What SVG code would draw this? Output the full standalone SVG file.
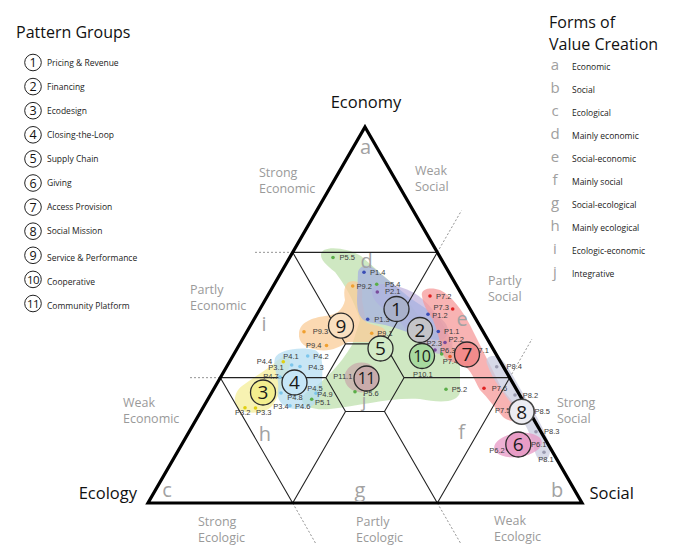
<svg xmlns="http://www.w3.org/2000/svg" width="697" height="555" viewBox="0 0 697 555">
<style>
.h{font-family:"Open Sans","Noto Sans",sans-serif;font-size:16px;fill:#111}
.li{font-family:"Open Sans","Noto Sans",sans-serif;font-size:8.5px;fill:#222}
.ln{font-family:"Open Sans","Noto Sans",sans-serif;font-size:12.5px;fill:#111;text-anchor:middle}
.lc{fill:#fff;stroke:#222;stroke-width:1}
.gl{font-family:"Open Sans","Noto Sans",sans-serif;font-size:12.5px;fill:#9a9a9a}
.rl{font-family:"Open Sans","Noto Sans",sans-serif;font-size:20px;fill:#a2a2a2;text-anchor:middle}
.ll{font-family:"Open Sans","Noto Sans",sans-serif;font-size:15px;fill:#a0a0a0;text-anchor:middle}
.pl{font-family:"Liberation Sans",Arial,sans-serif;font-size:7.5px;fill:#3a3a3a}
.nc{stroke:#2a2a2a;stroke-width:1.3}
.nn{font-family:"Open Sans","Noto Sans",sans-serif;font-size:19px;fill:#1a1a1a;text-anchor:middle}
.nn2{font-family:"Open Sans","Noto Sans",sans-serif;font-size:16px;fill:#1a1a1a;text-anchor:middle;letter-spacing:-0.6px}
.outer{fill:none;stroke:#000;stroke-width:3.2;stroke-linejoin:miter;stroke-miterlimit:10}
.grid{fill:none;stroke:#222;stroke-width:1.1}
.dotl{fill:none;stroke:#777;stroke-width:0.8;stroke-dasharray:2 2}
.blob{opacity:0.75}
</style>

<g id="legend-patterns">
<text class="h" x="16" y="38">Pattern Groups</text>
<g id="lp1"><circle class="lc" cx="33" cy="62.5" r="8.3"/><text class="ln" x="33" y="67">1</text><text class="li" x="47" y="65.5">Pricing &amp; Revenue</text></g>
<g id="lp2"><circle class="lc" cx="33" cy="86.6" r="8.3"/><text class="ln" x="33" y="91.1">2</text><text class="li" x="47" y="89.6">Financing</text></g>
<g id="lp3"><circle class="lc" cx="33" cy="110.7" r="8.3"/><text class="ln" x="33" y="115.2">3</text><text class="li" x="47" y="113.7">Ecodesign</text></g>
<g id="lp4"><circle class="lc" cx="33" cy="134.8" r="8.3"/><text class="ln" x="33" y="139.3">4</text><text class="li" x="47" y="137.8">Closing-the-Loop</text></g>
<g id="lp5"><circle class="lc" cx="33" cy="158.9" r="8.3"/><text class="ln" x="33" y="163.4">5</text><text class="li" x="47" y="161.9">Supply Chain</text></g>
<g id="lp6"><circle class="lc" cx="33" cy="183" r="8.3"/><text class="ln" x="33" y="187.5">6</text><text class="li" x="47" y="186">Giving</text></g>
<g id="lp7"><circle class="lc" cx="33" cy="207.1" r="8.3"/><text class="ln" x="33" y="211.6">7</text><text class="li" x="47" y="210.1">Access Provision</text></g>
<g id="lp8"><circle class="lc" cx="33" cy="231.2" r="8.3"/><text class="ln" x="33" y="235.7">8</text><text class="li" x="47" y="234.2">Social Mission</text></g>
<g id="lp9"><circle class="lc" cx="33" cy="255.3" r="8.3"/><text class="ln" x="33" y="259.8">9</text><text class="li" x="47" y="261">Service &amp; Performance</text></g>
<g id="lp10"><circle class="lc" cx="33" cy="279.4" r="8.3"/><text class="ln" x="33" y="283.7" style="font-size:11.5px;letter-spacing:-0.5px">10</text><text class="li" x="47" y="285">Cooperative</text></g>
<g id="lp11"><circle class="lc" cx="33" cy="303.5" r="8.3"/><text class="ln" x="33" y="307.8" style="font-size:11.5px;letter-spacing:-0.5px">11</text><text class="li" x="47" y="309">Community Platform</text></g>
</g>

<g id="legend-forms">
<text class="h" x="549" y="27.5">Forms of</text>
<text class="h" x="549" y="50">Value Creation</text>
<g id="lf-a"><text class="ll" x="555" y="69.5">a</text><text class="li" x="572" y="69.5">Economic</text></g>
<g id="lf-b"><text class="ll" x="555" y="92.5">b</text><text class="li" x="572" y="92.5">Social</text></g>
<g id="lf-c"><text class="ll" x="555" y="115.6">c</text><text class="li" x="572" y="115.6">Ecological</text></g>
<g id="lf-d"><text class="ll" x="555" y="138.7">d</text><text class="li" x="572" y="138.7">Mainly economic</text></g>
<g id="lf-e"><text class="ll" x="555" y="161.7">e</text><text class="li" x="572" y="161.7">Social-economic</text></g>
<g id="lf-f"><text class="ll" x="555" y="184.8">f</text><text class="li" x="572" y="184.8">Mainly social</text></g>
<g id="lf-g"><text class="ll" x="555" y="207.8">g</text><text class="li" x="572" y="207.8">Social-ecological</text></g>
<g id="lf-h"><text class="ll" x="555" y="230.9">h</text><text class="li" x="572" y="230.9">Mainly ecological</text></g>
<g id="lf-i"><text class="ll" x="555" y="253.9">i</text><text class="li" x="572" y="253.9">Ecologic-economic</text></g>
<g id="lf-j"><text class="ll" x="555" y="277">j</text><text class="li" x="572" y="277">Integrative</text></g>
</g>

<g id="blobs">
<path id="blob5" class="blob" fill="#bfe0ae" d="M321,255 C321,245 346,247 361,256 L400,290 L420,318 C440,330 458,345 460,368 L460,392 C458,403 440,403 420,399 C390,397 360,406 330,409 C305,411 295,401 307,392 C324,382 340,365 352,345 L360,320 C354,300 345,285 335,272 C326,265 321,260 321,255 Z"/>
<path id="blob9" class="blob" fill="#f9cc98" d="M345,300 C343,290 345,281 353,281 C362,281 363,290 362,300 L366,322 C372,326 386,325 386,333 C386,341 375,342 365,342 L348,342 C340,347 330,352 318,350 C305,348 298,343 299,333 C300,322 312,318 325,316 C336,315 343,310 345,300 Z"/>
<path id="blob2" class="blob" fill="#c2b4de" d="M372,292 C372,283 385,282 400,287 C420,293 430,305 440,320 L452,340 C455,352 445,356 435,353 C420,345 410,335 400,322 C385,310 372,302 372,292 Z"/>
<path id="blob1" class="blob" fill="#a7b2e0" d="M358,272 C360,264 370,264 376,270 L410,298 L440,318 C452,326 450,340 438,340 C425,340 405,330 385,325 L368,322 C360,320 357,312 357,300 Z"/>
<path id="blob7" class="blob" fill="#f59a9a" d="M422,296 C420,288 432,287 440,290 C452,296 462,310 470,325 C480,345 490,365 500,385 C508,398 518,405 520,415 C521,422 510,423 503,417 C495,408 488,398 480,390 C474,380 472,370 462,364 C452,362 445,362 442,352 C440,340 437,330 433,320 C428,312 423,305 422,296 Z"/>
<path id="blob8" class="blob" fill="#c9cce0" d="M487,364 C484,356 494,354 500,358 C508,365 515,380 524,395 C533,410 542,425 548,440 C552,450 550,460 543,461 C536,461 535,452 532,440 C525,420 512,405 500,388 C494,380 490,372 487,364 Z"/>
<ellipse id="blob6" class="blob" fill="#e797c4" cx="518" cy="445" rx="24" ry="12" transform="rotate(-8 518 445)"/>
<path id="blob3" class="blob" fill="#f4ee98" d="M284,356 C290,356 292,362 288,370 C284,380 280,395 272,406 C265,414 248,414 240,410 C232,404 234,392 242,386 C255,376 270,368 278,360 Z"/>
<path id="blob4" class="blob" fill="#b6def2" d="M275,358 C278,350 300,346 315,350 C325,355 322,372 322,385 C322,400 315,408 300,409 C285,410 276,402 278,390 C280,378 272,368 275,358 Z"/>
<ellipse id="blob11" class="blob" fill="#c8abab" cx="361.5" cy="377.5" rx="17" ry="15"/>
</g>

<g id="connectors">
<path class="grid" d="M292.67,252.33 H437.33 M292.67,252.33 L345.5,343.9 M437.33,252.33 L384.5,343.9 M220.33,377.67 H326 M509.67,377.67 H404 M292.67,503 L345.5,411.43 M437.33,503 L384.5,411.43 M220.33,377.67 L292.67,503 M437.33,503 L509.67,377.67 M345.5,343.9 L384.5,343.9 L404,377.67 L384.5,411.43 L345.5,411.43 L326,377.67 Z"/>
<path class="dotl" d="M255,252.33 H292.67 M190,377.67 H220.33 M437.33,252.33 L461.5,210.5 M509.67,377.67 L532,339 M292.67,503 L316,544 M437.33,503 L461,544"/>
<path id="triangle" class="outer" d="M365,127 L582,503 L148,503 Z"/>
</g>

<g id="axis-labels">
<text class="h" x="366" y="108" text-anchor="middle" style="font-size:16.5px">Economy</text>
<text class="h" x="137" y="498.5" text-anchor="end" style="font-size:16.5px">Ecology</text>
<text class="h" x="589.5" y="498.5" style="font-size:16.5px">Social</text>
<text class="gl" x="259" y="177">Strong</text><text class="gl" x="259" y="193">Economic</text>
<text class="gl" x="415" y="175">Weak</text><text class="gl" x="415" y="191">Social</text>
<text class="gl" x="190" y="294">Partly</text><text class="gl" x="190" y="310">Economic</text>
<text class="gl" x="488" y="285">Partly</text><text class="gl" x="488" y="301">Social</text>
<text class="gl" x="123" y="407">Weak</text><text class="gl" x="123" y="423">Economic</text>
<text class="gl" x="557" y="407">Strong</text><text class="gl" x="557" y="423">Social</text>
<text class="gl" x="198" y="526">Strong</text><text class="gl" x="198" y="542">Ecologic</text>
<text class="gl" x="356" y="526">Partly</text><text class="gl" x="356" y="542">Ecologic</text>
<text class="gl" x="494" y="525">Weak</text><text class="gl" x="494" y="541">Ecologic</text>
</g>

<g id="regions">
<text class="rl" x="365.5" y="154">a</text>
<text class="rl" x="557" y="497">b</text>
<text class="rl" x="167" y="497">c</text>
<text class="rl" x="366.5" y="268">d</text>
<text class="rl" x="462" y="326">e</text>
<text class="rl" x="461.5" y="439">f</text>
<text class="rl" x="360" y="497">g</text>
<text class="rl" x="265" y="441">h</text>
<text class="rl" x="264" y="331">i</text>
<text class="rl" x="364" y="407" style="font-size:18px">j</text>
</g>

<g id="points">
<g fill="#5aae48"><circle cx="333" cy="257.5" r="1.8"/><circle cx="376.7" cy="284.3" r="1.8"/><circle cx="446" cy="389.3" r="1.8"/><circle cx="311.7" cy="399.3" r="1.8"/><circle cx="355" cy="391.7" r="1.8"/><circle cx="441.7" cy="354" r="1.8"/></g>
<g fill="#3a4db5"><circle cx="364" cy="272.3" r="1.8"/><circle cx="367.7" cy="319.3" r="1.8"/><circle cx="428" cy="314.3" r="1.8"/><circle cx="438.3" cy="331.5" r="1.8"/></g>
<g fill="#7a4c9c"><circle cx="377.3" cy="292" r="1.8"/><circle cx="445" cy="342.5" r="1.8"/><circle cx="435" cy="350" r="1.8"/></g>
<g fill="#f0a030"><circle cx="352.7" cy="286" r="1.8"/><circle cx="371.7" cy="333.3" r="1.8"/><circle cx="304" cy="331.7" r="1.8"/><circle cx="326.5" cy="345.5" r="1.8"/></g>
<g fill="#e02222"><circle cx="430" cy="296" r="1.8"/><circle cx="452.7" cy="309" r="1.8"/><circle cx="470.7" cy="350" r="1.8"/><circle cx="484" cy="388.3" r="1.8"/><circle cx="516" cy="410" r="1.8"/><circle cx="450" cy="356.5" r="1.8" fill="#e85a2a"/></g>
<g fill="#9a9ab0"><circle cx="496.7" cy="366.7" r="1.8"/><circle cx="515" cy="395" r="1.8"/><circle cx="528" cy="411" r="1.8"/><circle cx="536" cy="431.7" r="1.8"/><circle cx="544" cy="452.3" r="1.8"/></g>
<g fill="#e0208a"><circle cx="529" cy="444" r="1.8"/><circle cx="507.3" cy="449" r="1.8"/></g>
<g fill="#e0cf10"><circle cx="283.3" cy="361.7" r="1.8"/><circle cx="245" cy="407.7" r="1.8"/><circle cx="255.5" cy="408" r="1.8"/><circle cx="263" cy="403" r="1.8"/></g>
<g fill="#7cc6ec"><circle cx="291.7" cy="365" r="1.8"/><circle cx="307.7" cy="356" r="1.8"/><circle cx="300" cy="366.5" r="1.8"/><circle cx="280" cy="377" r="1.8"/><circle cx="302" cy="386" r="1.8"/><circle cx="281" cy="393" r="1.8"/><circle cx="316" cy="393.3" r="1.8"/><circle cx="290" cy="405.7" r="1.8"/></g>
<circle cx="356.5" cy="377.3" r="1.8" fill="#a04c5c"/>

<text class="pl" x="339.5" y="260">P5.5</text>
<text class="pl" x="370" y="274.5">P1.4</text>
<text class="pl" x="356.5" y="288.5">P9.2</text>
<text class="pl" x="385" y="286.5">P5.4</text>
<text class="pl" x="385" y="294">P2.1</text>
<text class="pl" x="374.3" y="321.7">P1.3</text>
<text class="pl" x="377.3" y="335.7">P9.1</text>
<text class="pl" x="312.7" y="334">P9.3</text>
<text class="pl" x="306" y="347.7">P9.4</text>
<text class="pl" x="436" y="298.5">P7.2</text>
<text class="pl" x="433.5" y="310.3">P7.3</text>
<text class="pl" x="432.3" y="317.6">P1.2</text>
<text class="pl" x="444" y="334">P1.1</text>
<text class="pl" x="448.5" y="342">P2.2</text>
<text class="pl" x="426.5" y="346">P2.3</text>
<text class="pl" x="440" y="352.7">P6.3</text>
<text class="pl" x="442.7" y="364">P7.4</text>
<text class="pl" x="473.5" y="352.7">P7.1</text>
<text class="pl" x="413" y="376.5">P10.1</text>
<text class="pl" x="506.5" y="369">P8.4</text>
<text class="pl" x="451.7" y="392">P5.2</text>
<text class="pl" x="491.7" y="391">P7.6</text>
<text class="pl" x="522.7" y="397.5">P8.2</text>
<text class="pl" x="495" y="412.5">P7.5</text>
<text class="pl" x="534.5" y="414">P8.5</text>
<text class="pl" x="544" y="434.2">P8.3</text>
<text class="pl" x="531" y="446.7">P6.1</text>
<text class="pl" x="489.3" y="453">P6.2</text>
<text class="pl" x="538.3" y="462">P8.1</text>
<text class="pl" x="283.3" y="358.5">P4.1</text>
<text class="pl" x="313.3" y="358.5">P4.2</text>
<text class="pl" x="256.7" y="364">P4.4</text>
<text class="pl" x="268.3" y="369.5">P3.1</text>
<text class="pl" x="308.3" y="370">P4.3</text>
<text class="pl" x="263.3" y="379">P4.7</text>
<text class="pl" x="307.3" y="390.5">P4.5</text>
<text class="pl" x="287.3" y="400">P4.8</text>
<text class="pl" x="317.3" y="397">P4.9</text>
<text class="pl" x="315" y="404.5">P5.1</text>
<text class="pl" x="273.3" y="408.5">P3.4</text>
<text class="pl" x="295" y="408.5">P4.6</text>
<text class="pl" x="235" y="415">P3.2</text>
<text class="pl" x="256" y="415">P3.3</text>
<text class="pl" x="333.3" y="379">P11.1</text>
<text class="pl" x="363.3" y="396">P5.6</text>
</g>

<g id="groups">
<g id="g1"><circle class="nc" cx="396.5" cy="309" r="12.5" fill="#a9b1cb"/><text class="nn" x="396.5" y="315.8">1</text></g>
<g id="g2"><circle class="nc" cx="420" cy="330" r="12.5" fill="#c4c4c8"/><text class="nn" x="420" y="336.8">2</text></g>
<g id="g3"><circle class="nc" cx="263" cy="392.5" r="12.5" fill="#f3ee8e"/><text class="nn" x="263" y="399.3">3</text></g>
<g id="g4"><circle class="nc" cx="294.5" cy="382.5" r="12.5" fill="#c6e6f7"/><text class="nn" x="294.5" y="389.3">4</text></g>
<g id="g5"><circle class="nc" cx="380.5" cy="348.5" r="12.5" fill="#d2eac6"/><text class="nn" x="380.5" y="355.3">5</text></g>
<g id="g6"><circle class="nc" cx="518.3" cy="444.5" r="12.5" fill="#e89cc6"/><text class="nn" x="518.3" y="451.3">6</text></g>
<g id="g7"><circle class="nc" cx="467" cy="354.5" r="12.5" fill="#f28b8b"/><text class="nn" x="467" y="361.3">7</text></g>
<g id="g8"><circle class="nc" cx="521.7" cy="411.7" r="12.5" fill="#ececf2" style="stroke:#444;stroke-width:1.6"/><text class="nn" x="521.7" y="418.5">8</text></g>
<g id="g9"><circle class="nc" cx="341" cy="325.7" r="12.5" fill="#fae0c0"/><text class="nn" x="341" y="332.5">9</text></g>
<g id="g10"><circle class="nc" cx="422" cy="356" r="12.5" fill="#a8daa0"/><text class="nn2" x="421.7" y="361.8">10</text></g>
<g id="g11"><circle class="nc" cx="366.5" cy="378.5" r="12.5" fill="#c9abab"/><text class="nn2" x="366.2" y="384.3">11</text></g>
</g>
</svg>
